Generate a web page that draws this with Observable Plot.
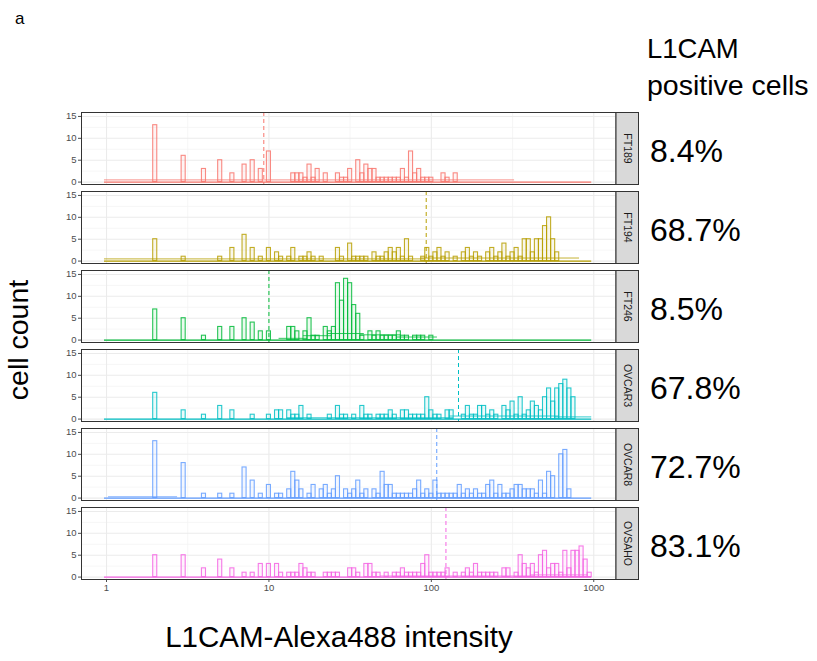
<!DOCTYPE html>
<html><head><meta charset="utf-8">
<script src="https://cdn.jsdelivr.net/npm/d3@7"></script>
<script src="https://cdn.jsdelivr.net/npm/@observablehq/plot@0.6"></script>
<style>body{margin:0;background:#fff;} #chart{width:817px;height:661px;}</style>
</head><body><div id="chart"></div>
<script>
// ---------- data ----------
const samples = ["FT189", "FT194", "FT246", "OVCAR3", "OVCAR8", "OVSAHO"];
const colors = ["#F8766D", "#B79F00", "#00BA38", "#00BFC4", "#619CFF", "#F564E3"];
const positivePct = ["8.4%", "68.7%", "8.5%", "67.8%", "72.7%", "83.1%"];
const thresholds = [9.3, 93, 10, 147, 108, 123];
const binStep = 0.025;   // histogram bin width in log10 units
const nBins = 120;       // bins 0..119, bin k centred on 10^(k*binStep)
// [bin index, cell count]
const countsFT189 = [[12,13],[19,6],[24,3],[28,5],[31,2],[34,4],[36,5],[38,3],[40,7],[46,2],[47,2],[48,2],[49,1],[50,4],[51,1],[52,3],[54,2],[57,2],[58,1],[59,1],[60,3],[62,5],[63,2],[64,4],[65,3],[66,3],[67,1],[68,1],[69,1],[70,1],[71,1],[72,1],[73,3],[74,1],[75,7],[76,2],[77,3],[78,1],[79,1],[80,1],[83,2],[84,1],[86,2]];
const countsFT194 = [[12,5],[19,1],[28,1],[31,3],[34,6],[36,3],[38,1],[40,3],[42,2],[43,1],[45,1],[46,3],[48,1],[49,1],[50,2],[51,1],[53,1],[57,3],[58,1],[60,4],[61,1],[62,1],[63,1],[64,1],[66,2],[67,1],[68,1],[69,2],[70,3],[71,2],[72,3],[73,1],[74,5],[75,1],[78,1],[79,3],[80,1],[81,2],[82,3],[83,1],[84,2],[86,1],[88,2],[89,3],[90,1],[91,2],[92,1],[94,2],[95,3],[96,1],[97,2],[98,4],[99,1],[100,2],[101,3],[102,1],[103,5],[104,5],[105,2],[106,5],[107,5],[108,8],[109,10],[110,5],[111,2]];
const countsFT246 = [[12,7],[19,5],[24,1],[28,3],[31,3],[34,5],[36,4],[38,2],[40,2],[45,3],[46,3],[47,2],[49,2],[50,5],[51,1],[52,1],[54,3],[55,2],[56,3],[57,13],[58,9],[59,14],[60,13],[61,8],[62,6],[63,1],[65,2],[66,1],[67,2],[68,1],[69,1],[70,1],[71,1],[72,2],[73,1],[74,1],[76,1],[77,1],[78,1],[80,1]];
const countsOVCAR3 = [[12,6],[19,2],[24,1],[28,3],[31,2],[36,1],[40,1],[42,2],[43,2],[45,2],[46,1],[47,1],[48,3],[50,1],[55,1],[57,3],[58,1],[59,1],[61,1],[63,3],[64,1],[65,1],[67,1],[68,1],[69,1],[70,2],[71,1],[73,2],[74,2],[75,1],[76,1],[77,1],[78,1],[79,5],[80,2],[81,1],[82,1],[84,2],[85,2],[88,1],[89,3],[90,1],[91,1],[92,3],[93,3],[94,1],[95,2],[96,1],[98,3],[99,2],[100,4],[101,1],[102,5],[103,1],[104,2],[105,4],[106,3],[107,2],[108,5],[109,7],[110,4],[111,7],[112,8],[113,9],[114,7],[115,5]];
const countsOVCAR8 = [[12,13],[19,8],[24,1],[28,1],[31,1],[34,7],[36,4],[38,1],[40,3],[42,1],[43,1],[45,2],[46,6],[47,4],[48,2],[50,1],[51,3],[53,2],[54,3],[55,1],[56,2],[57,5],[59,2],[60,1],[61,2],[62,4],[63,1],[64,2],[66,2],[67,1],[68,6],[69,3],[70,3],[71,1],[72,1],[73,1],[74,1],[75,1],[76,2],[77,4],[78,1],[79,2],[80,1],[81,4],[82,1],[83,1],[84,1],[85,1],[86,1],[87,3],[88,1],[89,2],[90,1],[91,2],[92,1],[93,1],[94,3],[95,4],[96,1],[97,3],[98,1],[99,1],[100,2],[101,3],[102,3],[103,2],[104,2],[105,2],[106,1],[107,4],[108,1],[109,6],[110,5],[112,10],[113,11],[114,2]];
const countsOVSAHO = [[12,5],[19,5],[24,2],[28,4],[31,2],[34,1],[36,1],[38,3],[40,3],[42,3],[43,1],[45,1],[46,1],[47,1],[48,3],[49,2],[50,1],[51,1],[54,1],[55,1],[56,1],[57,1],[60,2],[61,2],[62,1],[64,3],[65,3],[66,1],[67,1],[69,1],[71,1],[72,1],[73,2],[74,1],[75,1],[76,1],[77,1],[78,3],[79,5],[80,1],[81,1],[82,1],[83,1],[84,2],[86,1],[88,1],[89,2],[90,1],[91,3],[92,1],[93,1],[94,1],[95,1],[96,1],[98,2],[99,2],[101,1],[102,5],[103,3],[104,2],[105,3],[106,1],[107,5],[108,6],[109,2],[110,3],[111,3],[112,1],[113,6],[114,2],[115,6],[116,6],[117,7],[118,4],[119,1]];
// faint second (density-like) layer: [first bin, last bin, height]
const overlayFT189 = [[0,100,0.5]];
const overlayFT194 = [[0,78,0.5],[78,116,0.7]];
const overlayFT246 = [[43,49,0.4],[49,55,1.0],[55,63,1.5],[63,72,1.2],[72,81,0.7]];
const overlayOVCAR3 = [[45,85,0.3],[85,111,0.7],[111,119,0.5]];
const overlayOVCAR8 = [[1,17,0.3]];
const overlayOVSAHO = [[68,105,0.25],[105,118,0.5]];
const xTicks = [1, 10, 100, 1000];
const xMinorTicks = [3.1623, 31.623, 316.23];
const yTicks = [0, 5, 10, 15];
const yMinorTicks = [2.5, 7.5, 12.5];

// ---------- build tables ----------
const countSets = [countsFT189, countsFT194, countsFT246, countsOVCAR3, countsOVCAR8, countsOVSAHO];
const overlaySets = [overlayFT189, overlayFT194, overlayFT246, overlayOVCAR3, overlayOVCAR8, overlayOVSAHO];
const edge = k => Math.pow(10, k * binStep);
const bars = [], overlays = [];
samples.forEach((s, i) => {
  countSets[i].forEach(([k, c]) => bars.push({sample: s, x1: edge(k - 0.5), x2: edge(k + 0.5), y0: 0, count: c}));
  overlaySets[i].forEach(([a, b, h]) => overlays.push({sample: s, x1: edge(a - 0.5), x2: edge(b + 0.5), h}));
});
const baselines = samples.map(s => ({sample: s, x1: edge(-0.5), x2: edge(nBins - 0.5), y0: 0}));
const thr = samples.map((s, i) => ({sample: s, value: thresholds[i]}));
const pct = samples.map((s, i) => ({sample: s, label: positivePct[i]}));

// ---------- plot ----------
const W = 817, H = 661, mL = 81, mR = 201.5, mT = 111, mB = 80.5;
const frameW = W - mL - mR;
const font = "'Liberation Sans', Arial, sans-serif";
const plot = Plot.plot({
  width: W, height: H, marginLeft: mL, marginRight: mR, marginTop: mT, marginBottom: mB,
  style: {fontFamily: font, fontSize: "9.5px", color: "#4D4D4D", background: "white", overflow: "visible"},
  x: {type: "log", domain: [Math.pow(10, -0.154), Math.pow(10, 3.137)], ticks: xTicks, tickFormat: d => String(d), tickSize: 3, tickPadding: 2, label: null},
  y: {domain: [-0.55, 15.9], ticks: yTicks, tickSize: 3, tickPadding: 2, label: null},
  fy: {domain: samples, paddingInner: 0.09, paddingOuter: 0, axis: null, label: null},
  color: {domain: samples, range: colors},
  marks: [
    Plot.ruleX(xMinorTicks, {stroke: "#F4F4F4", strokeWidth: 0.8}),
    Plot.ruleY(yMinorTicks, {stroke: "#F4F4F4", strokeWidth: 0.8}),
    Plot.ruleX(xTicks, {stroke: "#EBEBEB", strokeWidth: 1.1}),
    Plot.ruleY(yTicks, {stroke: "#EBEBEB", strokeWidth: 1.1}),
    Plot.ruleY(overlays, {fy: "sample", y: "h", x1: "x1", x2: "x2", stroke: "sample", strokeWidth: 1, strokeOpacity: 0.8}),
    Plot.rect(bars, {fy: "sample", x1: "x1", x2: "x2", y1: "y0", y2: "count", stroke: "sample", fill: "sample", fillOpacity: 0.08, strokeWidth: 1.1, strokeOpacity: 0.85}),
    Plot.ruleY(baselines, {fy: "sample", y: "y0", x1: "x1", x2: "x2", stroke: "sample", strokeWidth: 1.3}),
    Plot.ruleX(thr, {fy: "sample", x: "value", stroke: "sample", strokeWidth: 1, strokeDasharray: "4,3"}),
    Plot.frame({stroke: "#333333", strokeWidth: 1}),
    Plot.frame({fill: "#D9D9D9", stroke: "#333333", strokeWidth: 1, insetLeft: frameW, insetRight: -22.5}),
    Plot.text(samples, {fy: d => d, text: d => d, frameAnchor: "right", dx: 11.5, rotate: 90, textAnchor: "middle", lineAnchor: "middle", fill: "#1A1A1A", fontSize: 10.5}),
    Plot.text(pct, {fy: "sample", text: "label", frameAnchor: "right", dx: 34, dy: 3, textAnchor: "start", lineAnchor: "middle", fill: "black", fontSize: 32})
  ]
});
document.getElementById("chart").appendChild(plot);

const svg = d3.select(plot);
const add = (txt, x, y, size, anchor, rotate) => {
  const t = svg.append("text").attr("x", x).attr("y", y).attr("font-family", font)
    .attr("font-size", size).attr("fill", "black").attr("text-anchor", anchor).text(txt);
  if (rotate) t.attr("transform", `rotate(${rotate},${x},${y})`);
  return t;
};
add("a", 15, 24, 17, "start");
add("L1CAM", 647, 58, 27.5, "start");
add("positive cells", 647, 95, 28.5, "start");
add("cell count", 28, 340, 28.5, "middle", -90);
add("L1CAM-Alexa488 intensity", 339, 647, 29.5, "middle");
</script>
</body></html>
